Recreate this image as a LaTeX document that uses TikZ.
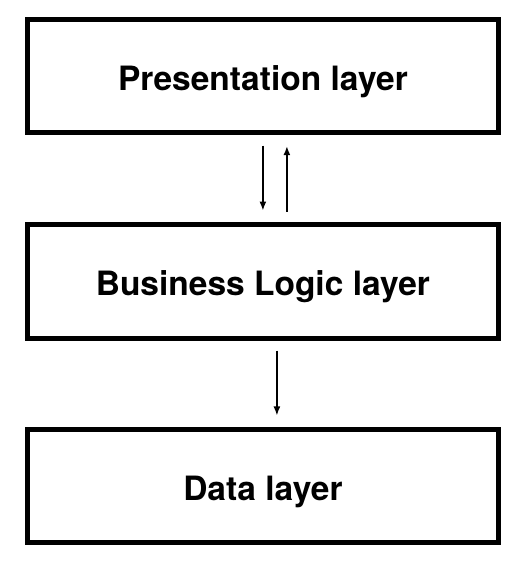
\documentclass[tikz,border=0pt]{standalone}
\usepackage{fontspec}
\setmainfont{TeX Gyre Heros}
\usetikzlibrary{arrows.meta}
\tikzset{
	layer/.style = {draw, line width = 5pt, rectangle, inner sep = 0pt,
		minimum width = 470.7pt, minimum height = 113.5pt,
		text height = 28.7pt, text depth = 0pt,
		font = \fontsize{33.5}{40}\selectfont\bfseries},
	flow/.style = {line width = 1.5pt, -{Latex[length=9pt, width=7pt]}}
}
\begin{document}
\begin{tikzpicture}[x = 1pt, y = -1pt]
	\useasboundingbox (0,0) rectangle (520,572);
	% layers
	\node[layer] (pres) at (262.9, 75.9) {Presentation layer};
	\node[layer] (logic) at (262.9, 281.3) {Business Logic layer};
	\node[layer] (data) at (262.9, 486.2) {Data layer};
	
	% calls between layers
	\draw[flow, shorten <= 10.4pt, shorten >= 11.5pt] (pres.south) -- (logic.north);
	\draw[flow, shorten <= 10.5pt, shorten >= 11pt] ([xshift=24pt]logic.north) -- ([xshift=24pt]pres.south);
	\draw[flow, shorten <= 10pt, shorten >= 11.5pt] ([xshift=14pt]logic.south) -- ([xshift=14pt]data.north);
\end{tikzpicture}
\end{document}
